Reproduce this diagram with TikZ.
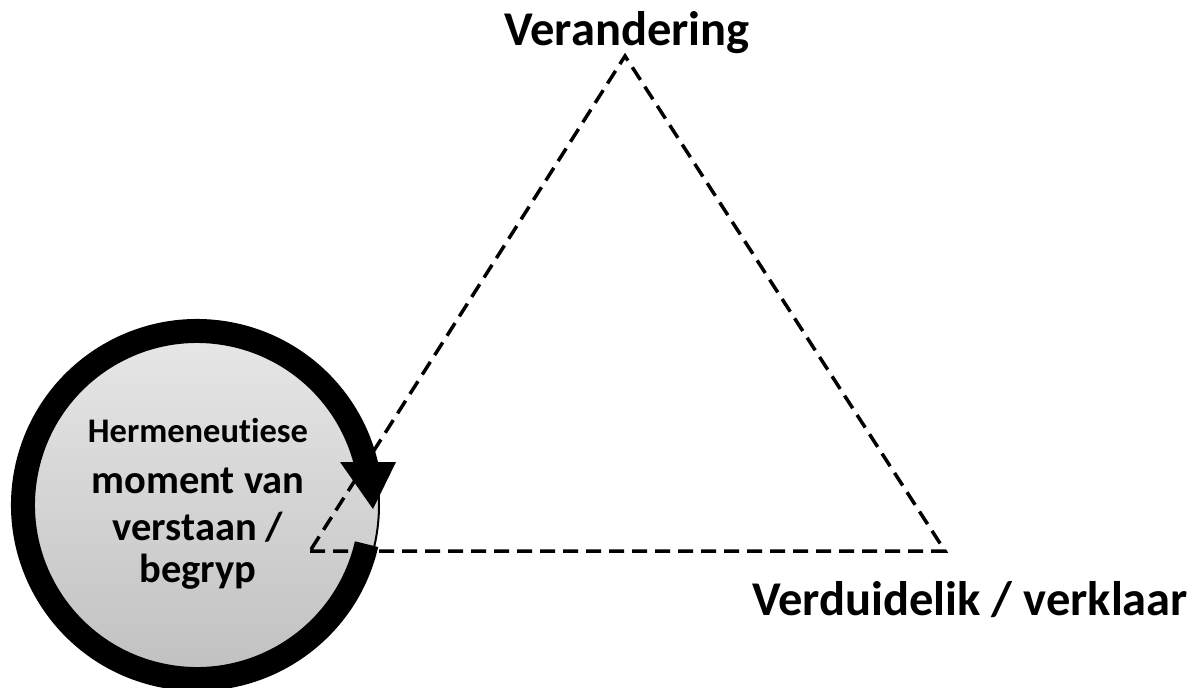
\documentclass[tikz,border=0pt]{standalone}
\usepackage{fontspec}
\setmainfont[Ligatures=NoCommon]{Carlito}
\begin{document}
\begin{tikzpicture}[x=1pt,y=-1pt,
  tri/.style={line width=3.5pt, dash pattern=on 15pt off 8pt},
  lbl/.style={font=\bfseries\fontsize{48.5}{58}\selectfont, anchor=base, inner sep=0pt},
  small/.style={font=\bfseries\fontsize{34.5}{40}\selectfont, anchor=base, inner sep=0pt},
  mid/.style={font=\bfseries\fontsize{40.5}{48}\selectfont, anchor=base, inner sep=0pt}]
\useasboundingbox (0,0) rectangle (1194,688);
% circle
\coordinate (c) at (197,505);
\node[circle, minimum size=364pt, inner sep=0pt, draw=black, line width=2pt,
  top color=black!9, bottom color=black!25] (disk) at (c) {};
\draw[line width=24pt] (c) ++(13:174) arc[start angle=13, end angle=347, radius=174];
\coordinate (h1) at (340,462);
\coordinate (h2) at (396,462);
\coordinate (ht) at (373,509);
\fill (h1) -- (h2) -- (ht) -- cycle;
% triangle
\coordinate (top) at (625,56);
\coordinate (left) at (310,551);
\coordinate (right) at (945,551);
\draw[tri] (left) -- (right) -- (top) -- (left);
% labels
\node[lbl] (ver) at (627,45) {Verandering};
\node[lbl] (verk) at (970,615) {Verduidelik / verklaar};
\node[small] (t1) at (198,442) {Hermeneutiese};
\node[mid] (t2) at (198,493) {moment van};
\node[mid] (t3) at (198,540) {verstaan /};
\node[mid] (t4) at (198,582) {begryp};
\end{tikzpicture}
\end{document}
